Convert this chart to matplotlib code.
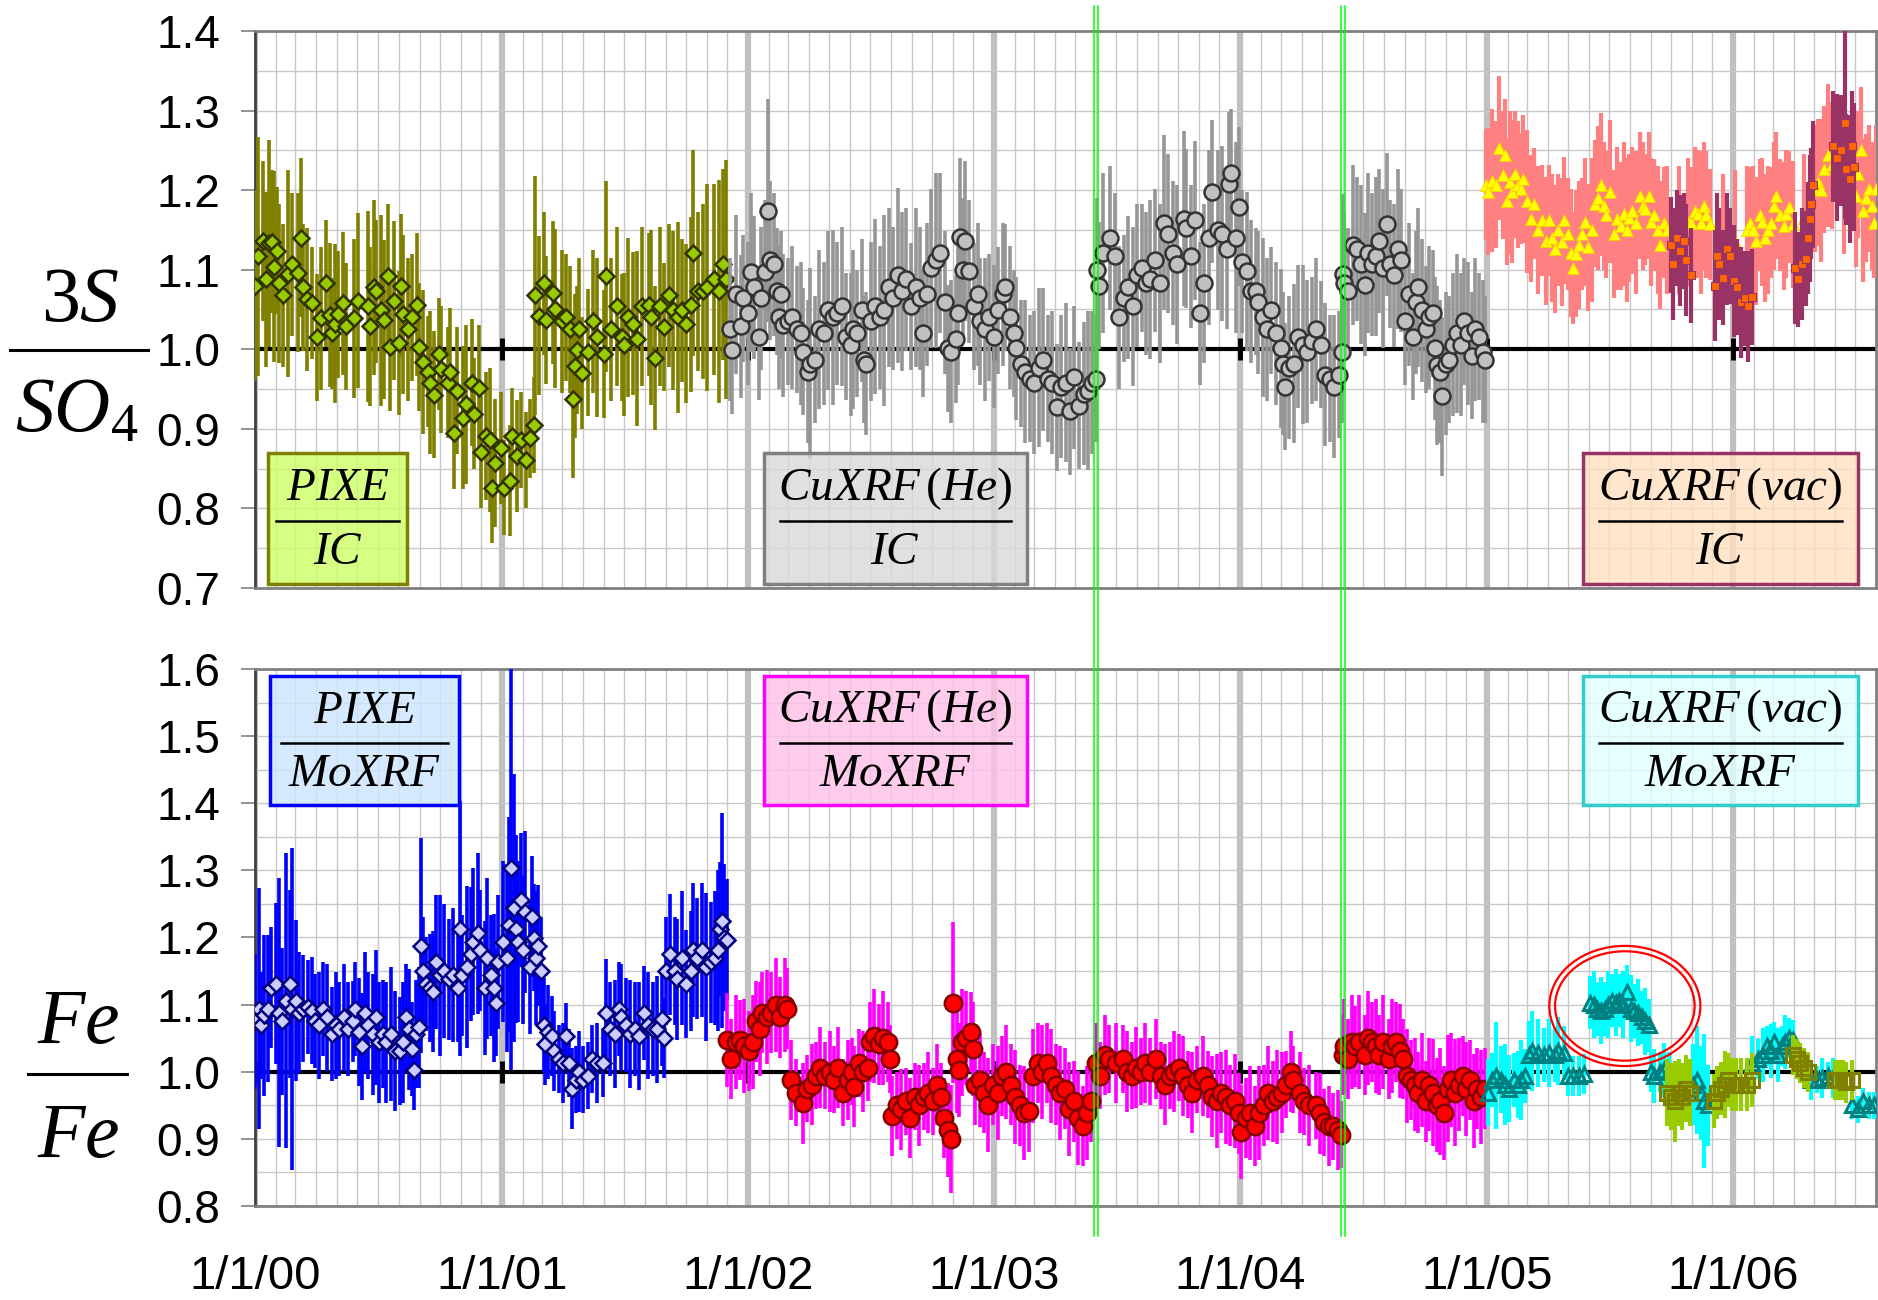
import datetime as dt
import numpy as np
import matplotlib
matplotlib.use("Agg")
import matplotlib.pyplot as plt
import matplotlib.dates as mdates
from matplotlib.patches import Rectangle, Ellipse
from matplotlib.lines import Line2D
from matplotlib.ticker import MultipleLocator, FormatStrFormatter, FuncFormatter

plt.rcParams['font.family'] = 'Liberation Sans'
plt.rcParams['mathtext.fontset'] = 'custom'
plt.rcParams['mathtext.rm'] = 'Liberation Serif'
plt.rcParams['mathtext.it'] = 'Liberation Serif:italic'
plt.rcParams['mathtext.bf'] = 'Liberation Serif:bold'

#######################################
# data: (years since 1/1/2000, ratio, uncertainty in 1/100)
#######################################

# top panel, 3S / SO4
pixe_ic = [(0.000,1.080,12),(0.013,1.117,15),(0.031,1.136,10),(0.045,1.088,11),(0.058,1.133,13),(0.071,1.135,9),
    (0.076,1.104,12),(0.089,1.124,8),(0.098,1.083,10),(0.112,1.068,9),(0.136,1.095,13),(0.149,1.107,9),(0.176,1.096,10),
    (0.188,1.140,10),(0.194,1.078,8),(0.212,1.063,9),(0.230,1.058,7),(0.252,1.015,8),(0.266,1.039,9),(0.290,1.083,8),
    (0.303,1.043,9),(0.312,1.020,7),(0.324,1.032,10),(0.339,1.044,8),(0.357,1.058,9),(0.371,1.029,8),(0.402,1.039,10),
    (0.420,1.061,11),(0.457,1.054,12),(0.466,1.029,10),(0.484,1.078,11),(0.493,1.073,9),(0.511,1.049,12),(0.524,1.037,10),
    (0.538,1.092,9),(0.549,1.003,8),(0.565,1.061,10),(0.583,1.008,9),(0.592,1.080,9),(0.601,1.044,10),(0.620,1.025,9),
    (0.638,1.040,8),(0.656,1.056,9),(0.665,1.003,8),(0.683,0.984,9),(0.701,0.972,7),(0.710,0.958,9),(0.728,0.943,8),
    (0.746,0.994,7),(0.755,0.975,8),(0.783,0.958,7),(0.792,0.972,8),(0.810,0.895,7),(0.819,0.948,8),(0.846,0.914,9),
    (0.855,0.931,10),(0.882,0.958,8),(0.891,0.919,7),(0.909,0.951,8),(0.918,0.871,7),(0.937,0.891,8),(0.955,0.886,9),
    (0.964,0.826,7),(0.973,0.857,8),(1.000,0.876,7),(1.009,0.826,6),(1.036,0.835,7),(1.045,0.891,6),(1.063,0.866,7),
    (1.082,0.886,6),(1.100,0.861,6),(1.118,0.888,5),(1.132,0.905,6),(1.136,1.068,15),(1.154,1.042,10),(1.172,1.083,9),
    (1.181,1.037,8),(1.208,1.071,9),(1.217,1.051,10),(1.245,1.035,9),(1.263,1.040,8),(1.281,1.025,8),(1.290,0.938,10),
    (1.299,0.979,9),(1.308,0.999,8),(1.317,1.025,9),(1.326,0.970,7),(1.353,0.996,8),(1.371,1.035,9),(1.389,1.015,10),
    (1.417,0.994,8),(1.426,1.092,12),(1.444,1.025,9),(1.471,1.054,10),(1.489,1.015,8),(1.498,1.006,9),(1.516,1.040,10),
    (1.534,1.032,9),(1.553,1.013,11),(1.571,1.054,10),(1.598,1.056,9),(1.607,1.040,11),(1.625,0.989,9),(1.643,1.054,10),
    (1.661,1.028,8),(1.679,1.068,9),(1.697,1.049,10),(1.716,1.040,12),(1.734,1.049,9),(1.752,1.032,10),(1.770,1.056,11),
    (1.779,1.121,13),(1.797,1.073,10),(1.818,1.073,11),(1.836,1.078,13),(1.864,1.088,12),(1.882,1.073,14),(1.900,1.107,12),
    (1.913,1.088,15)]

cuhe_ic = [(1.927,1.025,9),(1.936,0.999,8),(1.955,1.069,10),(1.973,1.029,9),(1.982,1.064,8),(2.000,1.045,9),(2.015,1.097,10),
    (2.027,1.078,9),(2.045,1.016,8),(2.055,1.064,9),(2.069,1.097,9),(2.082,1.174,14),(2.091,1.112,10),(2.109,1.107,9),
    (2.118,1.073,8),(2.127,1.040,9),(2.136,1.069,8),(2.145,1.030,9),(2.164,1.035,8),(2.182,1.040,9),(2.200,1.025,8),
    (2.218,1.020,9),(2.227,0.997,8),(2.245,0.972,9),(2.255,0.982,12),(2.273,0.987,8),(2.291,1.025,10),(2.309,1.020,9),
    (2.327,1.049,10),(2.345,1.040,11),(2.364,1.045,9),(2.382,1.054,10),(2.400,1.016,8),(2.418,1.006,9),(2.427,1.025,10),
    (2.445,1.020,8),(2.464,1.049,9),(2.473,0.987,8),(2.482,0.982,9),(2.500,1.035,10),(2.518,1.054,11),(2.536,1.040,9),
    (2.555,1.049,12),(2.573,1.078,10),(2.591,1.064,9),(2.609,1.093,11),(2.627,1.073,10),(2.645,1.088,9),(2.664,1.054,8),
    (2.682,1.078,10),(2.700,1.064,9),(2.713,1.020,8),(2.727,1.069,9),(2.745,1.102,10),(2.764,1.112,11),(2.782,1.121,10),
    (2.800,1.059,9),(2.815,1.001,8),(2.827,0.997,9),(2.845,1.013,8),(2.855,1.045,9),(2.864,1.141,10),(2.873,1.100,9),
    (2.882,1.136,10),(2.900,1.098,9),(2.918,1.054,8),(2.936,1.069,9),(2.945,1.035,8),(2.964,1.025,9),(2.982,1.040,8),
    (3.000,1.016,9),(3.018,1.049,8),(3.036,1.069,9),(3.045,1.078,8),(3.064,1.040,9),(3.082,1.020,8),(3.091,1.001,9),
    (3.109,0.982,8),(3.127,0.972,9),(3.145,0.963,8),(3.164,0.958,9),(3.182,0.977,10),(3.200,0.987,9),(3.218,0.963,8),
    (3.236,0.958,9),(3.255,0.927,8),(3.273,0.953,9),(3.291,0.958,10),(3.309,0.922,8),(3.327,0.965,9),(3.345,0.929,8),
    (3.364,0.944,9),(3.382,0.948,10),(3.400,0.958,9),(3.413,0.963,8),(3.418,1.100,9),(3.427,1.080,8),(3.445,1.121,10),
    (3.473,1.140,9),(3.491,1.117,8),(3.509,1.040,9),(3.527,1.064,8),(3.545,1.078,9),(3.564,1.054,10),(3.582,1.093,9),
    (3.600,1.102,8),(3.618,1.083,9),(3.636,1.088,10),(3.655,1.112,9),(3.673,1.083,10),(3.691,1.159,11),(3.709,1.145,10),
    (3.727,1.121,9),(3.745,1.107,10),(3.773,1.164,11),(3.782,1.152,10),(3.800,1.117,9),(3.818,1.162,10),(3.836,1.045,9),
    (3.855,1.083,10),(3.873,1.140,11),(3.887,1.198,9),(3.909,1.150,10),(3.927,1.145,11),(3.945,1.126,10),(3.955,1.208,9),
    (3.964,1.222,8),(3.982,1.140,12),(3.996,1.179,10),(4.009,1.110,9),(4.027,1.098,10),(4.045,1.073,9),(4.064,1.073,8),
    (4.073,1.059,9),(4.091,1.040,10),(4.109,1.025,9),(4.127,1.049,8),(4.145,1.020,9),(4.164,1.001,10),(4.173,0.982,9),
    (4.182,0.953,8),(4.200,0.977,9),(4.218,0.982,10),(4.236,1.016,9),(4.255,1.006,10),(4.273,0.997,9),(4.291,1.011,8),
    (4.309,1.025,9),(4.327,1.006,8),(4.345,0.968,9),(4.364,0.963,8),(4.382,0.953,9),(4.400,0.968,8),(4.415,0.997,9),
    (4.418,1.095,10),(4.423,1.083,9),(4.438,1.073,8),(4.460,1.131,10),(4.475,1.126,9),(4.490,1.107,10),(4.505,1.081,9),
    (4.520,1.121,10),(4.535,1.107,9),(4.550,1.117,10),(4.565,1.136,9),(4.580,1.102,10),(4.595,1.157,9),(4.610,1.107,8),
    (4.625,1.093,9),(4.640,1.126,10),(4.655,1.112,9),(4.670,1.035,8),(4.685,1.069,9),(4.700,1.016,8),(4.715,1.059,9),
    (4.723,1.078,10),(4.738,1.049,9),(4.753,1.025,8),(4.768,1.040,9),(4.783,1.045,8),(4.790,1.001,9),(4.798,0.980,10),
    (4.813,0.972,9),(4.820,0.941,10),(4.835,0.982,9),(4.850,0.987,8),(4.865,1.006,9),(4.880,1.020,10),(4.895,1.006,9),
    (4.910,1.035,8),(4.925,1.020,9),(4.940,0.992,8),(4.955,1.025,9),(4.970,1.016,8),(4.985,0.997,9),(4.993,0.987,8)]

cuvac_ic = [(5.000,1.207,7),(5.007,1.198,8),(5.022,1.212,9),(5.037,1.207,8),(5.052,1.253,9),(5.067,1.219,8),(5.075,1.244,7),
    (5.082,1.186,8),(5.095,1.210,9),(5.105,1.198,9),(5.117,1.220,8),(5.127,1.207,8),(5.142,1.202,7),(5.150,1.214,8),
    (5.165,1.186,9),(5.180,1.164,8),(5.195,1.183,7),(5.210,1.150,8),(5.225,1.162,7),(5.240,1.136,8),(5.255,1.162,7),
    (5.266,1.140,8),(5.277,1.126,8),(5.292,1.150,7),(5.305,1.135,8),(5.315,1.162,8),(5.330,1.145,7),(5.345,1.121,8),
    (5.352,1.102,7),(5.365,1.120,8),(5.375,1.131,8),(5.390,1.145,7),(5.400,1.160,8),(5.412,1.128,8),(5.427,1.150,9),
    (5.442,1.183,8),(5.455,1.190,9),(5.465,1.207,9),(5.477,1.180,8),(5.487,1.169,8),(5.502,1.198,9),(5.517,1.145,8),
    (5.532,1.164,9),(5.547,1.155,8),(5.560,1.170,9),(5.570,1.150,9),(5.580,1.165,8),(5.592,1.174,8),(5.607,1.159,9),
    (5.622,1.193,8),(5.635,1.180,8),(5.645,1.176,7),(5.660,1.193,8),(5.670,1.160,8),(5.682,1.169,7),(5.695,1.150,8),
    (5.705,1.131,8),(5.720,1.159,7),(5.735,1.150,8),(5.780,1.150,8),(5.820,1.160,8),(5.832,1.159,7),(5.847,1.174,8),
    (5.860,1.170,8),(5.870,1.159,9),(5.882,1.180,8),(5.892,1.169,8),(5.907,1.157,7),(5.960,1.140,8),(6.010,1.135,9),
    (6.060,1.150,8),(6.072,1.159,7),(6.084,1.150,8),(6.094,1.136,8),(6.109,1.169,7),(6.120,1.160,8),(6.132,1.140,8),
    (6.144,1.150,8),(6.154,1.159,7),(6.166,1.180,8),(6.177,1.193,8),(6.192,1.169,7),(6.207,1.155,8),(6.218,1.170,8),
    (6.229,1.179,7),(6.244,1.157,8),(6.290,1.165,8),(6.334,1.202,8),(6.345,1.210,8),(6.357,1.200,9),(6.372,1.226,8),
    (6.387,1.244,9),(6.402,1.231,8),(6.450,1.210,9),(6.499,1.193,9),(6.510,1.220,8),(6.522,1.250,8),(6.529,1.174,9),
    (6.540,1.190,8),(6.552,1.202,8),(6.564,1.180,8),(6.574,1.159,7),(6.582,1.202,8)]

cuvac_ic_b = [(5.750,1.131,6),(5.758,1.107,7),(5.772,1.140,6),(5.787,1.124,7),(5.802,1.136,6),(5.810,1.112,7),(5.832,1.093,6),
    (5.930,1.080,7),(5.937,1.117,8),(5.945,1.107,7),(5.960,1.090,6),(5.975,1.126,7),(5.990,1.117,6),(6.004,1.086,7),
    (6.019,1.078,6),(6.034,1.059,7),(6.049,1.064,6),(6.064,1.054,7),(6.079,1.066,6),(6.252,1.102,7),(6.267,1.088,6),
    (6.282,1.107,7),(6.297,1.114,6),(6.304,1.140,7),(6.312,1.164,8),(6.319,1.183,7),(6.327,1.207,8),(6.409,1.255,7),
    (6.424,1.241,8),(6.439,1.250,7),(6.454,1.284,12),(6.462,1.226,7),(6.477,1.214,8),(6.484,1.255,7),(6.492,1.229,8)]

# bottom panel, Fe / Fe
pixe_mo = [(0.000,1.075,10),(0.015,1.094,18),(0.024,1.069,8),(0.038,1.084,12),(0.051,1.094,11),(0.064,1.125,9),
    (0.087,1.131,12),(0.096,1.088,20),(0.109,1.075,11),(0.124,1.106,22),(0.142,1.131,14),(0.151,1.094,24),(0.165,1.106,12),
    (0.178,1.088,9),(0.196,1.094,8),(0.215,1.097,7),(0.233,1.091,8),(0.245,1.075,7),(0.260,1.069,8),(0.278,1.094,7),
    (0.293,1.081,8),(0.311,1.056,7),(0.329,1.069,8),(0.342,1.063,7),(0.360,1.081,8),(0.378,1.063,7),(0.396,1.075,6),
    (0.405,1.094,7),(0.424,1.059,8),(0.436,1.038,8),(0.445,1.088,9),(0.460,1.069,8),(0.478,1.056,9),(0.493,1.081,10),
    (0.505,1.044,9),(0.518,1.056,8),(0.533,1.044,9),(0.551,1.056,10),(0.569,1.031,9),(0.587,1.031,8),(0.602,1.044,9),
    (0.615,1.081,8),(0.627,1.063,9),(0.638,1.034,7),(0.645,1.003,6),(0.655,1.056,8),(0.665,1.066,9),(0.675,1.188,16),
    (0.682,1.150,8),(0.696,1.131,7),(0.711,1.125,8),(0.724,1.119,9),(0.733,1.163,10),(0.751,1.144,12),(0.769,1.150,10),
    (0.787,1.138,9),(0.805,1.144,10),(0.824,1.125,8),(0.833,1.213,19),(0.842,1.144,9),(0.860,1.156,12),(0.878,1.175,10),
    (0.887,1.194,11),(0.905,1.206,12),(0.915,1.181,9),(0.933,1.125,10),(0.942,1.169,12),(0.960,1.144,9),(0.969,1.125,11),
    (0.978,1.103,8),(0.987,1.163,10),(1.005,1.194,12),(1.024,1.169,14),(1.033,1.219,16),(1.038,1.303,30),(1.051,1.244,20),
    (1.060,1.213,14),(1.069,1.194,12),(1.082,1.256,10),(1.087,1.181,11),(1.096,1.238,12),(1.115,1.156,10),(1.124,1.231,9),
    (1.133,1.200,8),(1.142,1.169,10),(1.151,1.188,9),(1.160,1.150,8),(1.173,1.069,7),(1.178,1.041,6),(1.191,1.059,7),
    (1.205,1.053,6),(1.215,1.031,6),(1.233,1.019,5),(1.251,1.013,6),(1.264,1.053,5),(1.275,1.013,5),(1.287,0.975,6),
    (1.305,0.988,5),(1.315,1.000,6),(1.333,0.988,5),(1.351,0.994,5),(1.369,1.019,5),(1.387,1.013,6),(1.415,1.013,5),
    (1.424,1.088,8),(1.442,1.063,7),(1.460,1.056,8),(1.478,1.094,7),(1.487,1.081,8),(1.505,1.069,7),(1.524,1.056,8),
    (1.542,1.063,7),(1.560,1.053,8),(1.578,1.088,7),(1.596,1.069,8),(1.615,1.063,7),(1.633,1.063,8),(1.651,1.078,7),
    (1.660,1.050,6),(1.669,1.150,8),(1.687,1.175,9),(1.705,1.150,8),(1.715,1.138,9),(1.733,1.169,10),(1.751,1.131,8),
    (1.769,1.150,9),(1.778,1.181,10),(1.796,1.169,9),(1.815,1.181,10),(1.833,1.156,11),(1.851,1.163,9),(1.869,1.169,10),
    (1.878,1.181,12),(1.887,1.213,10),(1.896,1.225,16),(1.906,1.200,11),(1.915,1.197,9)]

cuhe_mo = [(1.915,1.047,7),(1.933,1.019,6),(1.951,1.044,7),(1.969,1.047,6),(1.987,1.038,7),(2.006,1.031,6),(2.024,1.044,7),
    (2.033,1.075,6),(2.051,1.063,7),(2.060,1.088,6),(2.078,1.081,7),(2.096,1.088,6),(2.115,1.100,7),(2.133,1.081,6),
    (2.151,1.100,7),(2.160,1.094,6),(2.178,0.988,6),(2.196,0.969,5),(2.224,0.953,6),(2.242,0.975,5),(2.260,0.981,6),
    (2.278,0.994,5),(2.296,1.006,6),(2.315,0.994,5),(2.333,1.000,6),(2.351,0.988,5),(2.369,1.006,6),(2.387,0.969,5),
    (2.406,0.988,6),(2.424,1.000,5),(2.433,0.978,6),(2.451,1.013,5),(2.469,1.000,6),(2.487,1.006,5),(2.496,1.044,6),
    (2.515,1.053,7),(2.533,1.041,6),(2.551,1.050,7),(2.569,1.044,6),(2.578,1.019,5),(2.587,0.934,6),(2.606,0.950,5),
    (2.624,0.944,6),(2.642,0.956,5),(2.660,0.931,6),(2.678,0.963,5),(2.696,0.950,6),(2.715,0.963,5),(2.733,0.969,6),
    (2.751,0.956,5),(2.769,0.981,6),(2.787,0.963,5),(2.796,0.931,6),(2.815,0.913,7),(2.824,0.900,8),(2.833,1.103,12),
    (2.851,1.019,8),(2.860,1.003,7),(2.869,1.044,8),(2.887,1.050,7),(2.906,1.059,6),(2.915,1.034,7),(2.924,0.981,6),
    (2.942,0.988,7),(2.960,0.969,6),(2.978,0.950,7),(2.996,0.981,6),(3.015,0.969,7),(3.033,0.994,6),(3.051,1.000,7),
    (3.069,0.981,6),(3.087,0.963,7),(3.106,0.950,6),(3.124,0.938,7),(3.142,0.941,6),(3.160,0.994,7),(3.178,1.013,6),
    (3.196,1.000,7),(3.215,1.013,6),(3.233,0.994,7),(3.251,0.981,6),(3.269,0.969,7),(3.287,0.975,6),(3.306,0.944,7),
    (3.324,0.956,6),(3.342,0.931,7),(3.360,0.919,6),(3.378,0.938,7),(3.396,0.956,6),(3.415,1.013,6),(3.433,0.994,5),
    (3.451,1.025,6),(3.469,1.019,5),(3.496,1.013,6),(3.524,1.019,5),(3.542,1.000,6),(3.560,0.994,5),(3.578,1.006,6),
    (3.596,1.000,5),(3.615,1.013,6),(3.633,1.000,5),(3.660,1.019,6),(3.678,0.994,5),(3.696,0.981,6),(3.715,0.994,5),
    (3.733,1.000,6),(3.751,1.006,5),(3.769,0.994,6),(3.787,0.981,5),(3.806,0.969,6),(3.824,0.988,5),(3.851,0.994,6),
    (3.869,0.981,5),(3.887,0.963,6),(3.906,0.956,7),(3.924,0.969,6),(3.942,0.963,7),(3.960,0.950,6),(3.978,0.956,7),
    (3.996,0.938,6),(4.005,0.910,7),(4.024,0.931,6),(4.042,0.938,7),(4.060,0.919,6),(4.078,0.938,7),(4.096,0.950,6),
    (4.115,0.969,7),(4.133,0.956,6),(4.151,0.963,7),(4.169,0.969,6),(4.187,0.981,5),(4.206,1.000,6),(4.215,0.988,5),
    (4.242,0.969,6),(4.260,0.956,5),(4.278,0.950,6),(4.306,0.950,5),(4.324,0.938,6),(4.342,0.925,5),(4.360,0.919,6),
    (4.378,0.919,5),(4.397,0.913,6),(4.411,0.906,5),(4.418,1.025,6),(4.423,1.038,7),(4.438,1.019,6),(4.453,1.044,7),
    (4.468,1.038,6),(4.483,1.044,7),(4.505,1.025,6),(4.520,1.050,7),(4.535,1.044,6),(4.550,1.038,7),(4.565,1.025,6),
    (4.580,1.044,7),(4.603,1.019,6),(4.618,1.038,7),(4.633,1.044,6),(4.648,1.031,7),(4.663,1.019,6),(4.678,0.994,7),
    (4.693,0.988,6),(4.708,0.981,7),(4.723,0.969,6),(4.738,0.988,7),(4.753,0.956,6),(4.768,0.981,7),(4.783,0.969,8),
    (4.798,0.950,7),(4.813,0.956,8),(4.828,0.938,7),(4.843,0.975,8),(4.858,0.988,7),(4.873,0.969,8),(4.888,0.981,7),
    (4.903,0.994,6),(4.918,0.975,7),(4.933,0.988,6),(4.948,0.956,7),(4.963,0.975,6),(4.978,0.963,7),(4.993,0.975,6)]

cuvac_mo = [(5.007,0.969,5),(5.022,0.988,4),(5.037,0.994,8),(5.060,0.988,5),(5.075,0.981,6),(5.090,0.975,5),(5.112,0.988,4),
    (5.127,0.981,5),(5.142,0.988,6),(5.157,0.994,4),(5.172,1.025,5),(5.187,1.031,6),(5.210,1.028,5),(5.232,1.025,4),
    (5.255,1.028,5),(5.277,1.025,4),(5.292,1.031,5),(5.315,1.028,4),(5.330,0.994,3),(5.352,0.994,3),(5.375,0.994,3),
    (5.397,0.997,3),(5.420,1.103,4),(5.435,1.100,5),(5.450,1.094,4),(5.465,1.091,5),(5.480,1.094,4),(5.495,1.100,5),
    (5.510,1.106,4),(5.525,1.103,5),(5.540,1.106,4),(5.555,1.100,5),(5.570,1.119,4),(5.585,1.094,5),(5.600,1.091,4),
    (5.615,1.088,5),(5.630,1.081,4),(5.645,1.075,5),(5.660,1.069,4),(5.667,1.000,3),(5.682,0.994,4),(5.705,1.000,3),
    (5.720,1.003,4),(5.742,1.000,3),(5.840,0.981,6),(5.855,0.988,8),(5.870,0.969,7),(5.885,0.956,10),(5.900,0.950,6),
    (6.079,1.013,4),(6.102,1.019,3),(6.124,1.025,4),(6.139,1.038,3),(6.154,1.031,4),(6.169,1.044,3),(6.184,1.025,4),
    (6.199,1.038,3),(6.214,1.044,4),(6.229,1.050,3),(6.244,1.047,3),(6.319,0.988,3),(6.342,0.988,2),(6.364,0.991,3),
    (6.387,0.994,2),(6.409,0.991,3),(6.484,0.950,2),(6.507,0.944,2),(6.529,0.956,2),(6.552,0.950,2),(6.574,0.950,2)]

cuvac_mo_b = [(5.735,0.969,5),(5.750,0.963,5),(5.765,0.956,6),(5.780,0.969,5),(5.795,0.963,5),(5.810,0.975,5),(5.825,0.969,5),
    (5.922,0.956,4),(5.937,0.969,4),(5.952,0.975,4),(5.967,0.981,5),(5.982,0.988,4),(5.997,0.981,4),(6.012,0.981,4),
    (6.034,0.981,4),(6.057,0.981,4),(6.079,0.988,4),(6.244,1.025,3),(6.259,1.019,3),(6.274,1.013,3),(6.289,1.006,3),
    (6.304,1.000,3),(6.417,0.988,3),(6.432,0.988,3),(6.447,0.988,3),(6.462,0.984,3),(6.484,0.988,3)]

# box labels: (numerator, denominator)
top_boxes = [(r'$PIXE$', r'$IC$'), (r'$CuXRF\,\mathrm{(}He\mathrm{)}$', r'$IC$'),
             (r'$CuXRF\,\mathrm{(}vac\mathrm{)}$', r'$IC$')]
bot_boxes = [(r'$PIXE$', r'$MoXRF$'), (r'$CuXRF\,\mathrm{(}He\mathrm{)}$', r'$MoXRF$'),
             (r'$CuXRF\,\mathrm{(}vac\mathrm{)}$', r'$MoXRF$')]
years = list(range(2000, 2007))

#######################################

W, H = 1878, 1300
T0 = mdates.date2num(dt.datetime(2000, 1, 1))


def to_x(t):
    return T0 + np.asarray(t) * 365.25


def draw(ax, data, bar, marker, ms, face, edge, mew, z, elw=2.6):
    t, v, e = zip(*data)
    x = to_x(t)
    ax.errorbar(x, v, yerr=np.array(e) / 100., fmt='none', ecolor=bar, elinewidth=elw, capsize=0, zorder=z)
    ax.plot(x, v, ls='none', marker=marker, ms=ms, mfc=face, mec=edge, mew=mew, zorder=z + 0.5)


def add_box(ax, x0, x1, y0, y1, face, edge, num, den):
    ax.add_patch(Rectangle((x0, y0), x1 - x0, y1 - y0, transform=ax.transAxes,
                           fc=face, ec=edge, lw=2.5, zorder=20))
    h = y1 - y0
    xm = (x0 + x1) / 2
    ax.text(xm, y1 - 0.27 * h, num, transform=ax.transAxes, ha='center', va='center', fontsize=34, zorder=21)
    ax.text(xm, y1 - 0.76 * h, den, transform=ax.transAxes, ha='center', va='center', fontsize=34, zorder=21)
    m = 0.06 * (x1 - x0)
    ax.add_line(Line2D([x0 + m, x1 - m], [y1 - 0.52 * h] * 2, transform=ax.transAxes,
                       color='black', lw=1.8, zorder=21))


fig = plt.figure(figsize=(W / 100, H / 100), dpi=100)
ax1 = fig.add_axes([255 / W, 1 - 588 / H, 1621 / W, 557 / H])
ax2 = fig.add_axes([255 / W, 1 - 1206 / H, 1621 / W, 537 / H])

for ax, lo, hi in ((ax1, 0.7, 1.4), (ax2, 0.8, 1.6)):
    ax.set_xlim(T0, mdates.date2num(dt.datetime(2006, 8, 1)))
    ax.set_ylim(lo, hi)
    ax.xaxis.set_major_locator(mdates.YearLocator())
    ax.xaxis.set_minor_locator(mdates.MonthLocator())
    ax.yaxis.set_major_locator(MultipleLocator(0.1))
    ax.yaxis.set_minor_locator(MultipleLocator(0.05))
    ax.yaxis.set_major_formatter(FormatStrFormatter('%.1f'))
    ax.grid(which='minor', axis='x', color='#c8c8c8', lw=1)
    ax.grid(which='major', axis='x', color='#c0c0c0', lw=4.5)
    ax.grid(which='both', axis='y', color='#c8c8c8', lw=1)
    ax.set_axisbelow(True)
    ax.tick_params(axis='y', which='major', length=10, width=1.2, color='#808080', labelsize=33, pad=15)
    ax.tick_params(axis='y', which='minor', length=0)
    ax.tick_params(axis='x', which='both', length=0)
    for s in ax.spines.values():
        s.set_color('#808080')
        s.set_linewidth(2)
    ax.spines['left'].set_color('#404040')
    # unity line with year ticks
    ax.axhline(1.0, color='black', lw=3, zorder=2)
    yx = [mdates.date2num(dt.datetime(y, 1, 1)) for y in years]
    ax.plot(yx, [1.0] * len(yx), ls='none', marker='|', ms=16, mew=3.5, color='black', zorder=2)

ax1.tick_params(axis='x', labelbottom=False)
ax2.xaxis.set_major_formatter(FuncFormatter(
    lambda v, p: (lambda d: '%d/%d/%02d' % (d.month, d.day, d.year % 100))(mdates.num2date(v))))
ax2.tick_params(axis='x', labelsize=34, pad=35)

# top panel series
draw(ax1, pixe_ic, '#808000', 'D', 8, '#99cc00', '#333300', 1.8, 3)
draw(ax1, cuhe_ic, '#969696', 'o', 11.5, '#c0c0c0', '#333333', 1.8, 4)
draw(ax1, cuvac_ic, '#ff8080', '^', 9, '#ffff00', '#ffcc00', 0.6, 5, elw=3.0)
draw(ax1, cuvac_ic_b, '#993366', 's', 5.5, '#ff6600', '#993366', 0.8, 6, elw=3.0)

# bottom panel series
draw(ax2, pixe_mo, '#0000ff', 'D', 8, '#ccccff', '#000080', 1.8, 3)
draw(ax2, cuhe_mo, '#ff00ff', 'o', 12.5, '#ff0000', '#800000', 1.8, 4)
draw(ax2, cuvac_mo, '#00ffff', '^', 9.5, 'none', '#008080', 2.2, 5, elw=3.0)
draw(ax2, cuvac_mo_b, '#99cc00', 's', 10, 'none', '#808000', 2.2, 6, elw=3.0)

# boxes
top_style = [('#ccff66', '#808000'), ('#d9d9d9', '#808080'), ('#ffe0c0', '#993366')]
bot_style = [('#cce5ff', '#0000ff'), ('#ffc0e8', '#ff00ff'), ('#e0ffff', '#33cccc')]
xs = [(0.008, 0.094), (0.314, 0.476), (0.819, 0.989)]
xs_b = [(0.009, 0.126), (0.314, 0.476), (0.819, 0.989)]
for (x0, x1), (fc, ec), (n, d) in zip(xs, top_style, top_boxes):
    add_box(ax1, x0, x1, 0.008, 0.242, matplotlib.colors.to_rgba(fc, 0.8), ec, n, d)
for (x0, x1), (fc, ec), (n, d) in zip(xs_b, bot_style, bot_boxes):
    add_box(ax2, x0, x1, 0.747, 0.987, matplotlib.colors.to_rgba(fc, 0.8), ec, n, d)

# red double ellipse around the odd cluster
xc = to_x(5.562)
ax2.add_patch(Ellipse((xc, 1.098), 224, 0.179, fill=False, ec='red', lw=1.6, zorder=10))
ax2.add_patch(Ellipse((xc, 1.098), 207, 0.163, fill=False, ec='red', lw=1.6, zorder=10))

# y axis fraction labels
fs = 56
fig.text(80 / W, 1 - 321 / H, r'$3S$', ha='center', va='baseline', fontsize=fs)
fig.text(77 / W, 1 - 431 / H, r'$SO_{\mathrm{4}}$', ha='center', va='baseline', fontsize=fs)
fig.add_artist(Line2D([10 / W, 148 / W], [1 - 350 / H] * 2, color='black', lw=2.2))
fig.text(78 / W, 1 - 1043 / H, r'$Fe$', ha='center', va='baseline', fontsize=fs)
fig.text(78 / W, 1 - 1157 / H, r'$Fe$', ha='center', va='baseline', fontsize=fs)
fig.add_artist(Line2D([28 / W, 127 / W], [1 - 1074 / H] * 2, color='black', lw=2.2))

# green double lines (June 2003 / June 2004)
for d in (dt.datetime(2003, 6, 1), dt.datetime(2004, 6, 1)):
    px = ax1.transData.transform((mdates.date2num(d), 1.0))[0]
    for off in (-2, 2):
        fig.add_artist(Line2D([(px + off) / W] * 2, [1 - 1236 / H, 1 - 6 / H], color='#00ff00', lw=1.1))

fig.savefig('out.png', dpi=100)
